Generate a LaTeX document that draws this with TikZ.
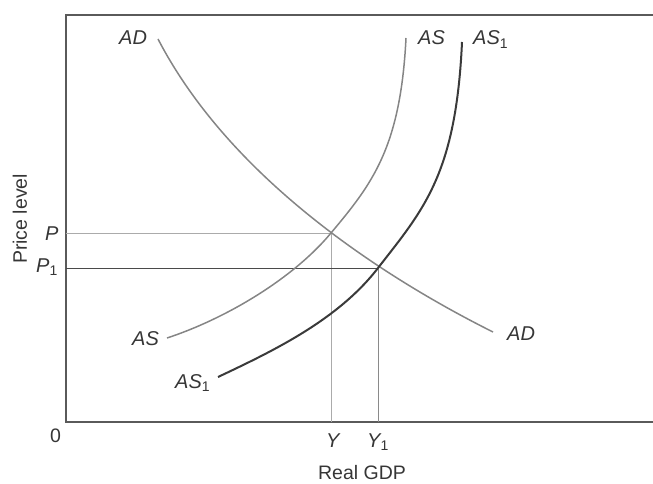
\documentclass[tikz,border=0pt]{standalone}
\usepackage{fontspec}
\setmainfont{Liberation Sans}
\usepackage{xcolor}
\definecolor{curvegray}{HTML}{858585}
\definecolor{darkcurve}{HTML}{3A3A3A}
\definecolor{framegray}{HTML}{5A5A5A}
\definecolor{guidelight}{HTML}{ABABAB}
\definecolor{guidemid}{HTML}{8A8A8A}
\definecolor{guidedark}{HTML}{4A4A4A}
\definecolor{labelgray}{HTML}{363636}

\begin{document}
\begin{tikzpicture}[x=1pt,y=-1pt]
\tikzstyle{lbl}=[inner sep=0pt,anchor=base west,text=labelgray,font=\fontsize{20}{22}\selectfont\itshape]
\tikzstyle{axlbl}=[inner sep=0pt,text=labelgray,font=\fontsize{19.5}{22}\selectfont]
\tikzstyle{curve}=[draw=curvegray,line width=1.5pt]
\useasboundingbox (0,0) rectangle (653,484);
\coordinate (O) at (66,422);
\coordinate (E) at (331,233);
\coordinate (E1) at (378,268);
% axes box, open on the right
\draw[framegray,line width=1.4pt] (653,15) -- (66,15) -- (O) -- (653,422);
% guide lines to the axes
\draw[guidelight,line width=1pt] (E -| O) -- (E) -- (E |- O);
\draw[guidedark,line width=1pt] (E1 -| O) -- (E1);
\draw[guidemid,line width=1pt] (E1) -- (E1 |- O);
% curves
\draw[curve] (158,39) .. controls (238,193) and (413,292) .. (493,332);
\draw[curve] (167,338) .. controls (222,320) and (291,281) .. (E)
  .. controls (372,184) and (400.5,148) .. (406,38);
\draw[darkcurve,line width=2pt] (218,377) .. controls (273,351) and (338,320) .. (E1)
  .. controls (423,210) and (456,175) .. (462,42);
% labels
\node[lbl] (adtop) at (119,45) {AD};
\node[lbl] (astop) at (418,45) {AS};
\node[lbl] (as1top) at (473,45) {AS\textsubscript{\upshape 1}};
\node[lbl] (aslow) at (132,345) {AS};
\node[lbl] (as1low) at (175,388) {AS\textsubscript{\upshape 1}};
\node[lbl] (adlow) at (507,340) {AD};
\node[lbl] (plab) at (45,240) {P};
\node[lbl] (p1lab) at (36,272) {P\textsubscript{\upshape 1}};
\node[lbl] (ylab) at (326,447) {Y};
\node[lbl] (y1lab) at (367,447) {Y\textsubscript{\upshape 1}};
\node[axlbl,anchor=base west] (zero) at (50,442) {0};
\node[axlbl,anchor=base] (gdp) at (362,479) {Real GDP};
\node[axlbl,rotate=90] (price) at (20,219) {Price level};
\end{tikzpicture}
\end{document}
